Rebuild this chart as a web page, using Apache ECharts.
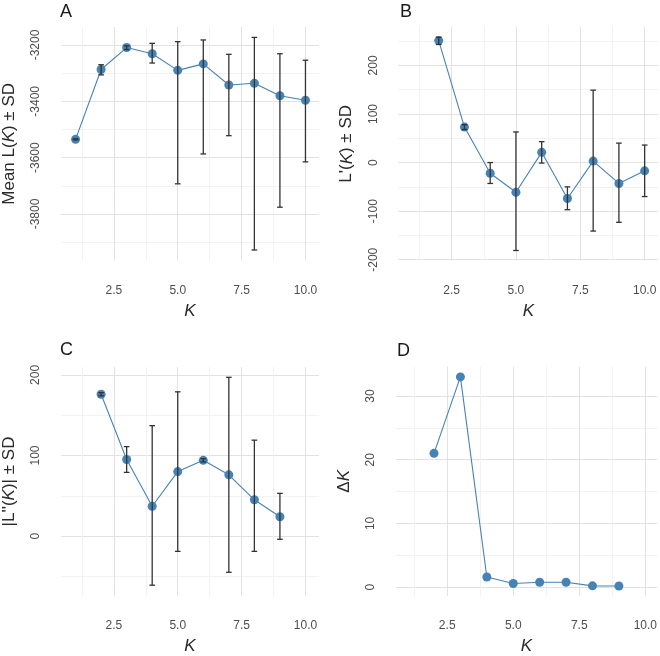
<!DOCTYPE html>
<html>
<head>
<meta charset="utf-8">
<script src="https://cdn.jsdelivr.net/npm/echarts@6/dist/echarts.min.js"></script>
<style>
html,body{margin:0;padding:0;background:#fff;}
#c{width:660px;height:656px;}
</style>
</head>
<body>
<div id="c"></div>
<script>
// ---- data ----
const kA = [1, 2, 3, 4, 5, 6, 7, 8, 9, 10];
const meanA = [-3535, -3287, -3209, -3231, -3290, -3267, -3342, -3336, -3380, -3396];
const lowA  = [-3537, -3306, -3216, -3264, -3693, -3587, -3522, -3928, -3776, -3615];
const upA   = [-3533, -3270, -3203, -3194, -3188, -3182, -3233, -3173, -3231, -3254];

const kB = [2, 3, 4, 5, 6, 7, 8, 9, 10];
const meanB = [251, 73, -22, -61, 21, -74, 3, -43, -17];
const lowB  = [243, 68, -43, -181, -1, -97, -141, -123, -70];
const upB   = [258, 78, 0, 63, 43, -50, 149, 40, 36];

const kC = [2, 3, 4, 5, 6, 7, 8, 9];
const meanC = [176, 95, 37, 80, 94, 76, 45, 24];
const lowC  = [174, 79, -61, -19, 92, -45, -19, -4];
const upC   = [178, 111, 137, 179, 96, 197, 119, 53];

const kD = [2, 3, 4, 5, 6, 7, 8, 9];
const deltaD = [21, 33, 1.6, 0.57, 0.77, 0.77, 0.2, 0.18];

const xMajor = [2.5, 5, 7.5, 10];
const xMinor = [1.25, 3.75, 6.25, 8.75];
const yMajorA = [-3800, -3600, -3400, -3200];
const yMinorA = [-3900, -3700, -3500, -3300];
const yMajorB = [-200, -100, 0, 100, 200];
const yMinorB = [-150, -50, 50, 150, 250];
const yMajorC = [0, 100, 200];
const yMinorC = [-50, 50, 150];
const yMajorD = [0, 10, 20, 30];
const yMinorD = [5, 15, 25];

// ---- style ----
const FONT = 'Liberation Sans';
const MAJ = '#E2E2E2';
const MIN = '#F2F2F2';
const BLUE = '#4682B4';
const ERR = '#333333';
const TITLE_COLOR = '#2a2a2a';

function axis(gridIndex, min, max, majors, minors, isX, name, rich) {
  const lines = majors.concat(minors).filter(v => v >= min && v <= max).sort((a, b) => a - b);
  const colors = lines.map(v => majors.indexOf(v) >= 0 ? MAJ : MIN);
  const a = {
    type: 'value',
    gridIndex: gridIndex,
    min: min,
    max: max,
    axisLine: {show: false},
    axisTick: {show: false, customValues: lines},
    splitLine: {show: true, lineStyle: {color: colors, width: 1}},
    axisLabel: {
      customValues: majors.filter(v => v >= min && v <= max),
      color: '#4D4D4D',
      fontFamily: FONT,
      fontSize: 12,
      formatter: isX ? (v => v.toFixed(1)) : (v => String(v))
    },
    name: name,
    nameLocation: 'middle',
    nameTextStyle: {color: TITLE_COLOR, fontFamily: FONT, fontSize: 17}
  };
  if (isX) {
    a.axisLabel.margin = 24;
    a.nameGap = 42;
    a.nameTextStyle.fontStyle = 'italic';
  } else {
    a.axisLabel.rotate = 90;
    a.axisLabel.margin = 19;
    a.nameGap = 43;
    a.nameRotate = 90;
    if (rich) {
      a.nameTextStyle.rich = {
        n: {color: TITLE_COLOR, fontFamily: FONT, fontSize: 17},
        i: {color: TITLE_COLOR, fontFamily: FONT, fontSize: 17, fontStyle: 'italic'}
      };
    }
  }
  return a;
}

function errSeries(idx, ks, lows, ups) {
  return {
    type: 'custom',
    xAxisIndex: idx, yAxisIndex: idx,
    z: 5,
    data: ks.map((k, i) => [k, lows[i], ups[i]]),
    renderItem: function (params, api) {
      const k = api.value(0), lo = api.value(1), hi = api.value(2);
      const w = 0.11;
      const pLo = api.coord([k, lo]), pHi = api.coord([k, hi]);
      const pLoL = api.coord([k - w, lo]), pLoR = api.coord([k + w, lo]);
      const pHiL = api.coord([k - w, hi]), pHiR = api.coord([k + w, hi]);
      const st = {stroke: ERR, lineWidth: 1.3};
      return {
        type: 'group',
        children: [
          {type: 'line', shape: {x1: pLo[0], y1: pLo[1], x2: pHi[0], y2: pHi[1]}, style: st},
          {type: 'line', shape: {x1: pLoL[0], y1: pLoL[1], x2: pLoR[0], y2: pLoR[1]}, style: st},
          {type: 'line', shape: {x1: pHiL[0], y1: pHiL[1], x2: pHiR[0], y2: pHiR[1]}, style: st}
        ]
      };
    }
  };
}

function lineSeries(idx, ks, vals) {
  return {
    type: 'line',
    xAxisIndex: idx, yAxisIndex: idx,
    z: 3,
    data: ks.map((k, i) => [k, vals[i]]),
    symbol: 'circle',
    symbolSize: 9,
    itemStyle: {color: BLUE},
    lineStyle: {color: BLUE, width: 1.1},
    animation: false
  };
}

const tagStyle = {fontFamily: FONT, fontSize: 18, fontWeight: 'normal', color: '#1a1a1a'};

const option = {
  animation: false,
  backgroundColor: '#fff',
  title: [
    {text: 'A', left: 60, top: 3, textStyle: tagStyle, padding: 0},
    {text: 'B', left: 400, top: 3, textStyle: tagStyle, padding: 0},
    {text: 'C', left: 60, top: 341, textStyle: tagStyle, padding: 0},
    {text: 'D', left: 397, top: 342, textStyle: tagStyle, padding: 0}
  ],
  grid: [
    {left: 58.4, top: 27, width: 260.6, height: 233.7},
    {left: 398.3, top: 27, width: 260, height: 233.7},
    {left: 58.4, top: 367, width: 260.6, height: 233},
    {left: 395.7, top: 366.7, width: 264.3, height: 233.3}
  ],
  xAxis: [
    axis(0, 0.43, 10.53, xMajor, xMinor, true, 'K'),
    axis(1, 0.43, 10.53, xMajor, xMinor, true, 'K'),
    axis(2, 0.43, 10.53, xMajor, xMinor, true, 'K'),
    axis(3, 0.55, 10.45, xMajor, xMinor, true, 'K')
  ],
  yAxis: [
    axis(0, -3966, -3136, yMajorA, yMinorA, false, '{n|Mean L(}{i|K}{n|) \u00B1 SD}', true),
    axis(1, -202, 279, yMajorB, yMinorB, false, "{n|L'(}{i|K}{n|) \u00B1 SD}", true),
    axis(2, -74.4, 209.8, yMajorC, yMinorC, false, "{n||L''(}{i|K}{n|)| \u00B1 SD}", true),
    axis(3, -1.39, 34.6, yMajorD, yMinorD, false, '{n|\u0394}{i|K}', true)
  ],
  series: [
    lineSeries(0, kA, meanA), errSeries(0, kA, lowA, upA),
    lineSeries(1, kB, meanB), errSeries(1, kB, lowB, upB),
    lineSeries(2, kC, meanC), errSeries(2, kC, lowC, upC),
    lineSeries(3, kD, deltaD)
  ]
};

const chart = echarts.init(document.getElementById('c'), null, {renderer: 'canvas'});
chart.setOption(option);
</script>
</body>
</html>
